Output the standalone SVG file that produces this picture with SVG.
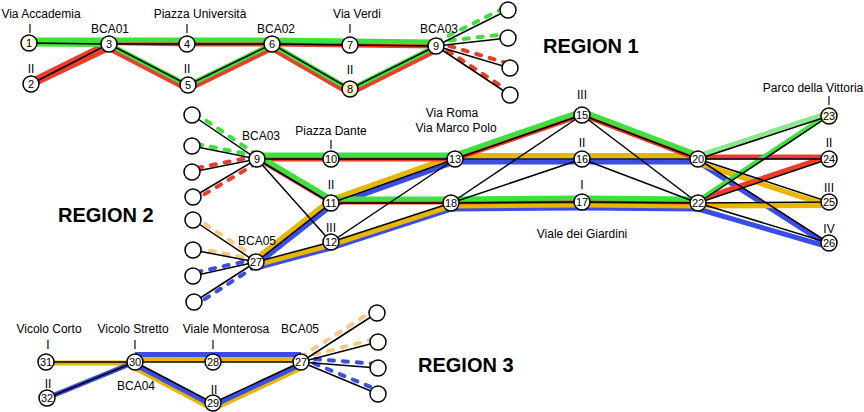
<svg xmlns="http://www.w3.org/2000/svg" width="864" height="412" viewBox="0 0 864 412">
<style>
.e{stroke:#000;stroke-width:1.5;fill:none}
.c{fill:none;stroke-width:5;stroke-linejoin:round}
.g{stroke:#3ee03e}.r{stroke:#ee3c2a}.y{stroke:#e8b500}.b{stroke:#3a4ee6}.lg{stroke:#8be88b}.o{stroke:#ffc880}
.d{fill:none;stroke-width:4;stroke-dasharray:5 9;stroke-linecap:round}
.n circle{fill:#fff;stroke:#000;stroke-width:1.5}
text{font-family:"Liberation Sans",Arial,Helvetica,sans-serif;font-size:12px;fill:#000;text-anchor:middle}
.num{font-size:11px}
.reg{font-weight:bold;font-size:20px;text-anchor:start}
</style>
<rect width="864" height="412" fill="#fff"/>
<g id="connectors">
<!-- region 1 colored -->
<polyline class="c r" points="31,81 109,42.5 187,44 272,44 350,45 436,46"/>
<polyline class="c r" points="31,85.5 109,48.5 188,89.5 272,48.5 350,93.5 436,50.5"/>
<polyline class="c g" points="29,40 109,40 187,40 272,40 350,41 436,42"/>
<polyline class="c g" points="29,44 109,44.5 188,85.5 272,44.5 350,89.5 436,46.5"/>
<!-- region 1 dashes -->
<line class="d g" x1="436" y1="42" x2="508" y2="6"/>
<line class="d g" x1="436" y1="42" x2="508" y2="34"/>
<line class="d r" x1="436" y1="42" x2="510" y2="64"/>
<line class="d r" x1="436" y1="43" x2="510" y2="92"/>
<!-- region 2 colored -->
<polyline class="c b" points="256,268 331,248 451,209 582,208 698,209 829,247"/>
<polyline class="c b" points="256,265 331,206 455,162 582,162 698,162 829,246"/>
<polyline class="c y" points="256,265 331,245 451,206 582,205 698,206 829,205.5"/>
<polyline class="c y" points="256,258.5 331,199.5 455,155.5 582,155.5 698,155.5"/>
<line class="c y" x1="698" y1="163" x2="829" y2="206"/>
<polyline class="c r" points="257,158 331,202 451,202 582,201 698,202"/>
<line class="c r" x1="698" y1="200" x2="829" y2="156"/>
<polyline class="c r" points="257,159 331,159 455,159 582,115 698,159"/>
<line class="c r" x1="698" y1="157" x2="829" y2="157"/>
<polyline class="c g" points="257,155 331,199 451,199 582,198 698,199"/>
<line class="c g" x1="698" y1="201" x2="829" y2="114"/>
<polyline class="c g" points="257,155 331,155 455,155 582,111 698,155"/>
<line class="c lg" x1="698" y1="156" x2="829" y2="113"/>
<!-- region 2 dashes -->
<line class="d g" x1="257" y1="155" x2="192" y2="111"/>
<line class="d g" x1="257" y1="156" x2="192" y2="143"/>
<line class="d r" x1="257" y1="156" x2="192" y2="169"/>
<line class="d r" x1="257" y1="163" x2="193" y2="201"/>
<line class="d o" x1="256" y1="258" x2="193" y2="216"/>
<line class="d o" x1="256" y1="259.5" x2="193" y2="247.5"/>
<line class="d b" x1="256" y1="259" x2="193" y2="273"/>
<line class="d b" x1="256" y1="266" x2="194" y2="306"/>
<!-- region 3 colored -->
<line class="c y" x1="46" y1="363" x2="135" y2="363"/>
<polyline class="c y" points="135,359 213,359 301,359"/>
<polyline class="c y" points="135,368 213,409 301,368"/>
<line class="c b" x1="47" y1="398" x2="135" y2="362"/>
<polyline class="c b" points="135,354.5 213,354.5 301,354.5"/>
<polyline class="c b" points="135,364.5 213,405.5 301,364.5"/>
<!-- region 3 dashes -->
<line class="d o" x1="301" y1="357" x2="377" y2="308"/>
<line class="d o" x1="301" y1="358" x2="378" y2="338"/>
<line class="d b" x1="301" y1="358" x2="378" y2="364"/>
<line class="d b" x1="301" y1="358" x2="378" y2="390"/>
<!-- black edges region 1 -->
<path class="e" d="M29,43L109,44M31,84L109,44M109,44L187,44L272,44L350,45L436,46M109,44L188,85L272,44L350,89L436,46M436,46L508,10M436,46L508,38M436,46L510,68M436,46L510,95"/>
<!-- black edges region 2 -->
<path class="e" d="M257,159L331,159L455,159M257,159L331,203M257,159L331,242M331,203L455,159M331,203L451,203M331,242L455,159M331,242L451,203M256,262L331,203M256,262L331,242M455,159L582,115M455,159L582,159M451,203L582,115M451,203L582,159M451,203L582,202L698,203M582,115L698,159M582,159L698,159M582,115L698,203M582,159L698,203M698,159L829,116M698,159L829,159M698,159L829,202M698,159L829,243M698,203L829,116M698,203L829,159M698,203L829,202M698,203L829,243"/>
<path class="e" d="M257,159L192,115M257,159L192,146M257,159L192,172M257,159L193,197M256,262L193,220M256,262L193,250M256,262L193,276M256,262L194,302"/>
<!-- black edges region 3 -->
<path class="e" d="M46,362L135,362L213,362L301,362M47,398L135,362M135,362L213,403L301,362M301,362L377,313M301,362L378,342M301,362L378,368M301,362L378,394"/>
</g>
<!-- Region 1 nodes -->
<g id="r1-n1" class="n"><circle cx="29" cy="43" r="8" style="fill:#fffbe5"/><text class="num" x="29" y="47">1</text><text x="30" y="33">I</text><text x="41" y="18">Via Accademia</text></g>
<g id="r1-n2" class="n"><circle cx="31" cy="84" r="8"/><text class="num" x="31" y="88">2</text><text x="31" y="73">II</text></g>
<g id="r1-n3" class="n"><circle cx="109" cy="44" r="8"/><text class="num" x="109" y="48">3</text><text x="110" y="33">BCA01</text></g>
<g id="r1-n4" class="n"><circle cx="187" cy="44" r="8"/><text class="num" x="187" y="48">4</text><text x="187" y="33">I</text><text x="200" y="18">Piazza Università</text></g>
<g id="r1-n5" class="n"><circle cx="188" cy="85" r="8"/><text class="num" x="188" y="89">5</text><text x="187" y="73">II</text></g>
<g id="r1-n6" class="n"><circle cx="272" cy="44" r="8"/><text class="num" x="272" y="48">6</text><text x="276" y="33">BCA02</text></g>
<g id="r1-n7" class="n"><circle cx="350" cy="45" r="8"/><text class="num" x="350" y="49">7</text><text x="350" y="33">I</text><text x="357" y="18">Via Verdi</text></g>
<g id="r1-n8" class="n"><circle cx="350" cy="89" r="8" style="fill:#fbefcb"/><text class="num" x="350" y="93">8</text><text x="350" y="74">II</text></g>
<g id="r1-n9" class="n"><circle cx="436" cy="46" r="8"/><text class="num" x="436" y="50">9</text><text x="439" y="33">BCA03</text></g>
<g id="r1-ends" class="n"><circle cx="508" cy="10" r="8"/><circle cx="508" cy="38" r="8"/><circle cx="510" cy="68" r="8"/><circle cx="510" cy="95" r="8"/></g>
<text class="reg" x="543" y="53">REGION 1</text>
<!-- Region 2 nodes -->
<g id="r2-ends" class="n"><circle cx="192" cy="115" r="8"/><circle cx="192" cy="146" r="8"/><circle cx="192" cy="172" r="8"/><circle cx="193" cy="197" r="8"/><circle cx="193" cy="220" r="8"/><circle cx="193" cy="250" r="8"/><circle cx="193" cy="276" r="8"/><circle cx="194" cy="302" r="8"/></g>
<g id="r2-n9" class="n"><circle cx="257" cy="159" r="8"/><text class="num" x="257" y="163">9</text><text x="261" y="140">BCA03</text></g>
<g id="r2-n10" class="n"><circle cx="331" cy="159" r="8"/><text class="num" x="331" y="163">10</text><text x="331" y="149">I</text><text x="331" y="135">Piazza Dante</text></g>
<g id="r2-n13" class="n"><circle cx="455" cy="159" r="8"/><text class="num" x="455" y="163">13</text><text x="452" y="117">Via Roma</text><text x="456" y="132">Via Marco Polo</text></g>
<g id="r2-n11" class="n"><circle cx="331" cy="203" r="8"/><text class="num" x="331" y="207">11</text><text x="331" y="189">II</text></g>
<g id="r2-n12" class="n"><circle cx="331" cy="242" r="8"/><text class="num" x="331" y="246">12</text><text x="331" y="232">III</text></g>
<g id="r2-n18" class="n"><circle cx="451" cy="203" r="8"/><text class="num" x="451" y="207">18</text></g>
<g id="r2-n27" class="n"><circle cx="256" cy="262" r="8"/><text class="num" x="256" y="266">27</text><text x="257" y="245">BCA05</text></g>
<g id="r2-n15" class="n"><circle cx="582" cy="115" r="8"/><text class="num" x="582" y="119">15</text><text x="582" y="99">III</text></g>
<g id="r2-n16" class="n"><circle cx="582" cy="159" r="8"/><text class="num" x="582" y="163">16</text><text x="582" y="147">II</text></g>
<g id="r2-n17" class="n"><circle cx="582" cy="202" r="8"/><text class="num" x="582" y="206">17</text><text x="582" y="189">I</text><text x="582" y="238">Viale dei Giardini</text></g>
<g id="r2-n20" class="n"><circle cx="698" cy="159" r="8"/><text class="num" x="698" y="163">20</text></g>
<g id="r2-n22" class="n"><circle cx="698" cy="203" r="8"/><text class="num" x="698" y="207">22</text></g>
<g id="r2-n23" class="n"><circle cx="829" cy="116" r="8" style="fill:#fbf6d8"/><text class="num" x="829" y="120">23</text><text x="829" y="105">I</text><text x="813" y="92">Parco della Vittoria</text></g>
<g id="r2-n24" class="n"><circle cx="829" cy="159" r="8"/><text class="num" x="829" y="163">24</text><text x="829" y="147">II</text></g>
<g id="r2-n25" class="n"><circle cx="829" cy="202" r="8"/><text class="num" x="829" y="206">25</text><text x="829" y="192">III</text></g>
<g id="r2-n26" class="n"><circle cx="829" cy="243" r="8"/><text class="num" x="829" y="247">26</text><text x="829" y="233">IV</text></g>
<text class="reg" x="58" y="222">REGION 2</text>
<!-- Region 3 nodes -->
<g id="r3-n31" class="n"><circle cx="46" cy="362" r="8"/><text class="num" x="46" y="366">31</text><text x="48" y="349">I</text><text x="49" y="333">Vicolo Corto</text></g>
<g id="r3-n32" class="n"><circle cx="47" cy="398" r="8"/><text class="num" x="47" y="402">32</text><text x="48" y="388">II</text></g>
<g id="r3-n30" class="n"><circle cx="135" cy="362" r="8"/><text class="num" x="135" y="366">30</text><text x="135" y="349">I</text><text x="133" y="333">Vicolo Stretto</text><text x="136" y="390">BCA04</text></g>
<g id="r3-n28" class="n"><circle cx="213" cy="362" r="8"/><text class="num" x="213" y="366">28</text><text x="213" y="349">I</text><text x="226" y="333">Viale Monterosa</text></g>
<g id="r3-n29" class="n"><circle cx="213" cy="403" r="8"/><text class="num" x="213" y="407">29</text><text x="214" y="394">II</text></g>
<g id="r3-n27" class="n"><circle cx="301" cy="362" r="8"/><text class="num" x="301" y="366">27</text><text x="300" y="333">BCA05</text></g>
<g id="r3-ends" class="n"><circle cx="377" cy="313" r="8"/><circle cx="378" cy="342" r="8"/><circle cx="378" cy="368" r="8"/><circle cx="378" cy="394" r="8"/></g>
<text class="reg" x="418" y="372">REGION 3</text>
</svg>
